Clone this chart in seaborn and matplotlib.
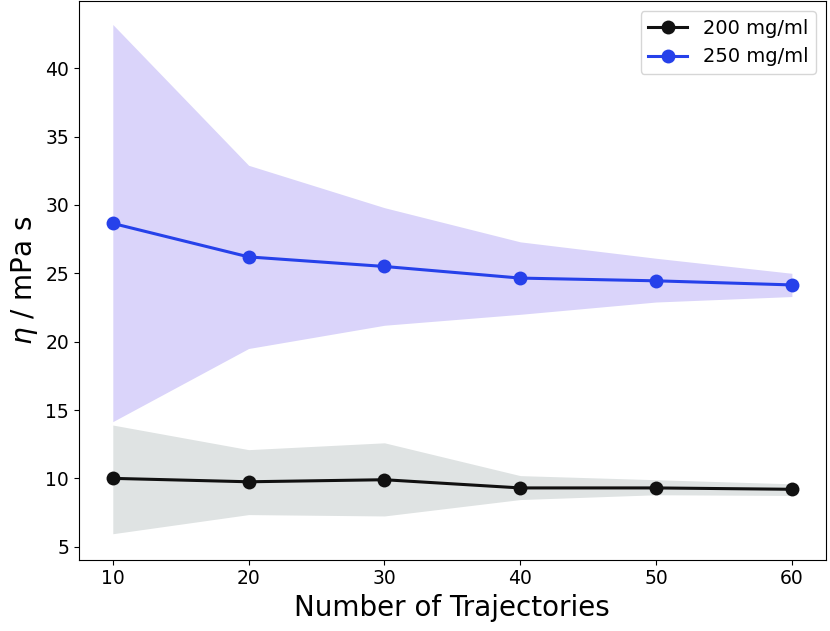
import pandas as pd
import matplotlib.pyplot as plt
import seaborn as sns

trajectories = [10, 20, 30, 40, 50, 60]

eta_200 = [10.0, 9.75, 9.9, 9.3, 9.3, 9.2]
eta_200_upper = [13.9, 12.1, 12.6, 10.2, 9.9, 9.6]
eta_200_lower = [5.95, 7.35, 7.25, 8.45, 8.8, 8.75]

eta_250 = [28.65, 26.2, 25.5, 24.65, 24.45, 24.15]
eta_250_upper = [43.2, 32.9, 29.8, 27.3, 26.1, 25.0]
eta_250_lower = [14.15, 19.5, 21.2, 22.0, 22.9, 23.3]

labels = ['200 mg/ml', '250 mg/ml']
line_colors = ['#111111', '#2641ea']
band_colors = ['#dfe3e3', '#dad4fa']
y_ticks = [5, 10, 15, 20, 25, 30, 35, 40]

df = pd.DataFrame({
    'n': trajectories * 2,
    'eta': eta_200 + eta_250,
    'conc': [labels[0]] * 6 + [labels[1]] * 6,
})

fig, ax = plt.subplots(figsize=(8.3, 6.31), dpi=100)
fig.subplots_adjust(left=0.095, right=0.995, top=0.998, bottom=0.113)

ax.fill_between(trajectories, eta_200_lower, eta_200_upper, color=band_colors[0], linewidth=0)
ax.fill_between(trajectories, eta_250_lower, eta_250_upper, color=band_colors[1], linewidth=0)

sns.lineplot(data=df, x='n', y='eta', hue='conc', hue_order=labels,
             palette=line_colors, marker='o', markersize=10, linewidth=2.2,
             markeredgewidth=0, ax=ax)

ax.set_yticks(y_ticks)
ax.set_ylim(4.05, 44.9)
ax.set_xlabel('Number of Trajectories', fontsize=20)
ax.set_ylabel(r'$\eta$ / mPa s', fontsize=20)
ax.tick_params(labelsize=13.5)
ax.legend(title=None, fontsize=14, loc='upper right')

plt.savefig('out.png')
